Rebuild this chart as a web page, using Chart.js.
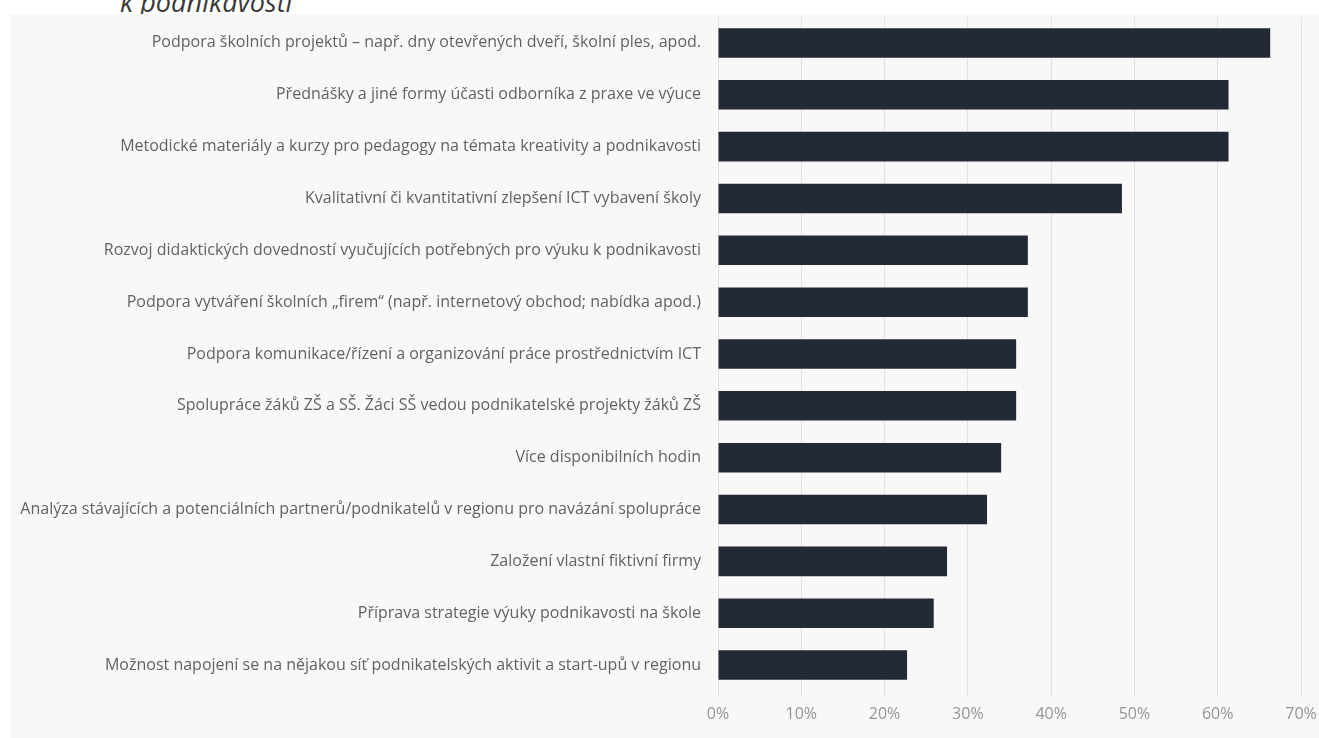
<!DOCTYPE html>
<html><head><meta charset="utf-8">
<script src="https://cdn.jsdelivr.net/npm/chart.js@4/dist/chart.umd.min.js"></script>
<style>
html,body{margin:0;padding:0;background:#fff;width:1319px;height:738px;overflow:hidden;}
#title{position:absolute;left:120px;top:-17px;font-family:"Open Sans",sans-serif;font-style:italic;font-size:27px;color:#3a3a3a;white-space:nowrap;}
#panel{position:absolute;left:10px;top:14px;width:1309px;height:724px;background:#f8f8f8;}
canvas{display:block;}
</style></head>
<body>
<div id="title">k podnikavosti</div>
<div id="panel"><canvas id="c" width="1309" height="724"></canvas></div>
<script>
const categories = [
  "Podpora školních projektů – např. dny otevřených dveří, školní ples, apod.",
  "Přednášky a jiné formy účasti odborníka z praxe ve výuce",
  "Metodické materiály a kurzy pro pedagogy na témata kreativity a podnikavosti",
  "Kvalitativní či kvantitativní zlepšení ICT vybavení školy",
  "Rozvoj didaktických dovedností vyučujících potřebných pro výuku k podnikavosti",
  "Podpora vytváření školních „firem“ (např. internetový obchod; nabídka apod.)",
  "Podpora komunikace/řízení a organizování práce prostřednictvím ICT",
  "Spolupráce žáků ZŠ a SŠ. Žáci SŠ vedou podnikatelské projekty žáků ZŠ",
  "Více disponibilních hodin",
  "Analýza stávajících a potenciálních partnerů/podnikatelů v regionu pro navázání spolupráce",
  "Založení vlastní fiktivní firmy",
  "Příprava strategie výuky podnikavosti na škole",
  "Možnost napojení se na nějakou síť podnikatelských aktivit a start-upů v regionu"
];
const values = [66.3, 61.3, 61.3, 48.5, 37.2, 37.2, 35.8, 35.8, 34.0, 32.3, 27.5, 25.9, 22.7];
const tickValues = [0, 10, 20, 30, 40, 50, 60, 70];

new Chart(document.getElementById('c'), {
  type: 'bar',
  data: {
    labels: categories,
    datasets: [{
      data: values,
      backgroundColor: '#232a36',
      borderWidth: 0,
      barPercentage: 0.76,
      categoryPercentage: 0.75
    }]
  },
  options: {
    indexAxis: 'y',
    responsive: false,
    animation: false,
    layout: { padding: { top: 3, right: 18, left: 0, bottom: 0 } },
    plugins: { legend: { display: false }, tooltip: { enabled: false }, title: { display: false } },
    scales: {
      x: {
        min: 0, max: 70,
        afterBuildTicks: (axis) => { axis.ticks = tickValues.map(v => ({ value: v })); },
        afterFit: (axis) => { axis.height = 47; axis.paddingLeft = 0; axis.paddingRight = 0; },
        grid: { color: '#e2e2e2', lineWidth: 1, tickLength: 6, drawTicks: true },
        border: { display: false },
        ticks: {
          callback: (v) => v + '%',
          color: '#959595',
          padding: 8,
          maxRotation: 0,
          font: { family: 'Open Sans', size: 16 }
        }
      },
      y: {
        afterFit: (axis) => { axis.width = 708; axis.paddingTop = 0; axis.paddingBottom = 0; },
        grid: { display: false },
        border: { display: false },
        ticks: {
          color: '#626262',
          padding: 9,
          autoSkip: false,
          font: { family: 'Open Sans', size: 16 }
        }
      }
    }
  }
});
</script>
</body></html>
